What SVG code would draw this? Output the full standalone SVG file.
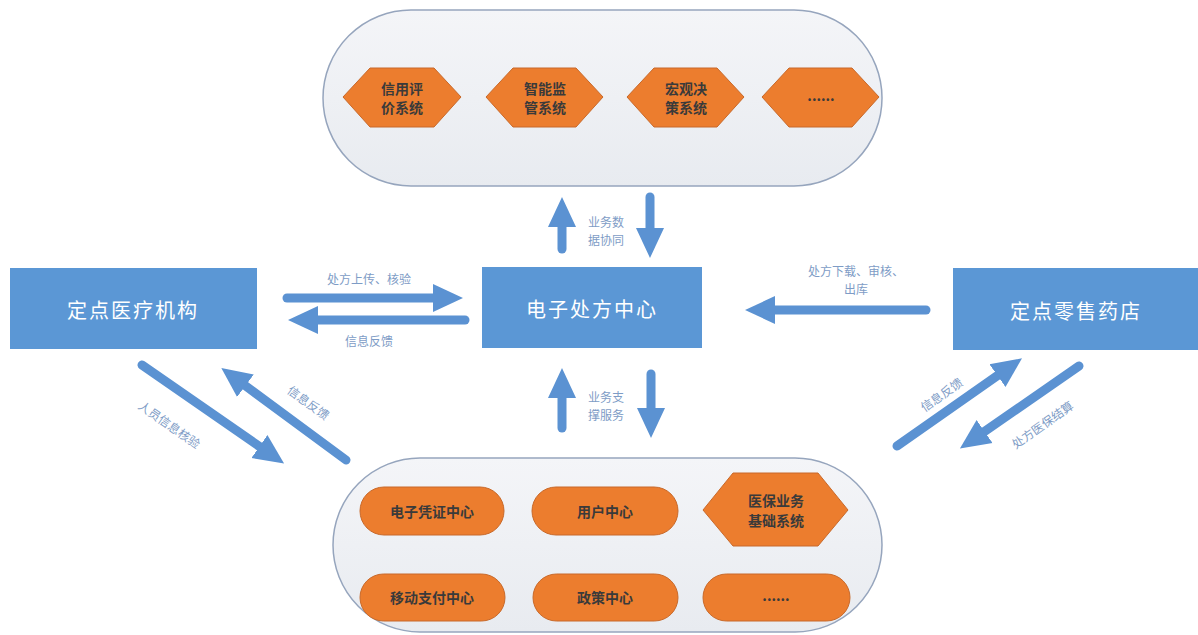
<svg xmlns="http://www.w3.org/2000/svg" width="1198" height="635" viewBox="0 0 1198 635">
<defs>
<marker id="ah" viewBox="0 0 30 30" markerUnits="userSpaceOnUse" markerWidth="30" markerHeight="30" refX="8" refY="15" orient="auto">
<path d="M0,1 L30,15 L0,29 z" fill="#5b92d2"/>
</marker>
<linearGradient id="sg" x1="0" y1="0" x2="0" y2="1">
<stop offset="0" stop-color="#f4f5f8"/>
<stop offset="1" stop-color="#e8ebf0"/>
</linearGradient>
</defs>
<style>
.stad{fill:url(#sg);stroke:#96a5bd;stroke-width:1.5}
.box{fill:#5b97d5}
.boxt{font-family:"Noto Sans CJK SC","Noto Sans",sans-serif;font-size:20px;fill:#ffffff;text-anchor:middle;dominant-baseline:central;letter-spacing:2px}
.org{fill:#ec7d2e;stroke:#c8692a;stroke-width:1}
.ot{font-family:"Noto Sans CJK SC","Noto Sans",sans-serif;font-size:14px;font-weight:bold;fill:#3a3a3a;text-anchor:middle;dominant-baseline:central}
.arr{stroke:#5b92d2;stroke-width:9;stroke-linecap:round;fill:none;marker-end:url(#ah)}
.lt{font-family:"Noto Sans CJK SC","Noto Sans",sans-serif;font-size:12px;fill:#7e9cc6;text-anchor:middle;dominant-baseline:central}
</style>
<rect width="1198" height="635" fill="#ffffff"/>

<g id="top-group">
<rect class="stad" x="323" y="10" width="559" height="176" rx="88" ry="88"/>
<g id="credit">
<polygon class="org" points="343,97 370,68 434,68 461,97 434,127 370,127"/>
<text class="ot" x="402" y="88">信用评</text><text class="ot" x="402" y="107">价系统</text>
</g>
<g id="supervise">
<polygon class="org" points="486,97 513,68 576,68 603,97 576,127 513,127"/>
<text class="ot" x="545" y="88">智能监</text><text class="ot" x="545" y="107">管系统</text>
</g>
<g id="macro">
<polygon class="org" points="627,97 654,68 717,68 744,97 717,127 654,127"/>
<text class="ot" x="686" y="88">宏观决</text><text class="ot" x="686" y="107">策系统</text>
</g>
<g id="more-top">
<polygon class="org" points="762,97 789,68 852,68 879,97 852,127 789,127"/>
<text class="ot" x="821" y="95">......</text>
</g>
</g>

<g id="hospital">
<rect class="box" x="10" y="268" width="247" height="81"/>
<text class="boxt" x="133" y="309">定点医疗机构</text>
</g>
<g id="center">
<rect class="box" x="482" y="267" width="220" height="81"/>
<text class="boxt" x="592" y="308">电子处方中心</text>
</g>
<g id="pharmacy">
<rect class="box" x="953" y="268" width="245" height="82"/>
<text class="boxt" x="1076" y="310">定点零售药店</text>
</g>

<g id="bottom-group">
<rect class="stad" x="333" y="458" width="549" height="174" rx="87" ry="87"/>
<g id="evoucher">
<rect class="org" x="360" y="487" width="144" height="48" rx="24"/>
<text class="ot" x="432" y="511">电子凭证中心</text>
</g>
<g id="user">
<rect class="org" x="532" y="487" width="146" height="48" rx="24"/>
<text class="ot" x="605" y="511">用户中心</text>
</g>
<g id="basic">
<polygon class="org" points="703,510 733,473 818,473 848,510 818,546 733,546"/>
<text class="ot" x="776" y="500">医保业务</text><text class="ot" x="776" y="520">基础系统</text>
</g>
<g id="mobilepay">
<rect class="org" x="360" y="574" width="145" height="47" rx="23.5"/>
<text class="ot" x="432" y="597">移动支付中心</text>
</g>
<g id="policy">
<rect class="org" x="533" y="574" width="145" height="47" rx="23.5"/>
<text class="ot" x="605" y="597">政策中心</text>
</g>
<g id="more-bottom">
<rect class="org" x="703" y="574" width="147" height="47" rx="23.5"/>
<text class="ot" x="776" y="595">......</text>
</g>
</g>

<g id="connectors">
<line class="arr" x1="287" y1="298" x2="441" y2="298"/>
<text class="lt" x="369" y="278">处方上传、核验</text>
<line class="arr" x1="465" y1="320" x2="310" y2="320"/>
<text class="lt" x="369" y="340">信息反馈</text>

<line class="arr" x1="926" y1="310" x2="767" y2="310"/>
<text class="lt" x="856" y="270">处方下载、审核、</text>
<text class="lt" x="856" y="288">出库</text>

<line class="arr" x1="562" y1="249" x2="562" y2="219"/>
<line class="arr" x1="650" y1="197" x2="650" y2="236"/>
<text class="lt" x="606" y="221">业务数</text>
<text class="lt" x="606" y="239">据协同</text>

<line class="arr" x1="562" y1="428" x2="562" y2="390"/>
<line class="arr" x1="651" y1="374" x2="651" y2="416"/>
<text class="lt" x="606" y="396">业务支</text>
<text class="lt" x="606" y="414">撑服务</text>

<line class="arr" x1="142" y1="365" x2="266" y2="451"/>
<text class="lt" transform="translate(170,424) rotate(35)">人员信息核验</text>
<line class="arr" x1="346" y1="460" x2="239" y2="381"/>
<text class="lt" transform="translate(309,402) rotate(36)">信息反馈</text>

<line class="arr" x1="897" y1="446" x2="1004" y2="371"/>
<text class="lt" transform="translate(941,394) rotate(-35)">信息反馈</text>
<line class="arr" x1="1079" y1="366" x2="978" y2="436"/>
<text class="lt" transform="translate(1042,424) rotate(-35)">处方医保结算</text>
</g>
</svg>
